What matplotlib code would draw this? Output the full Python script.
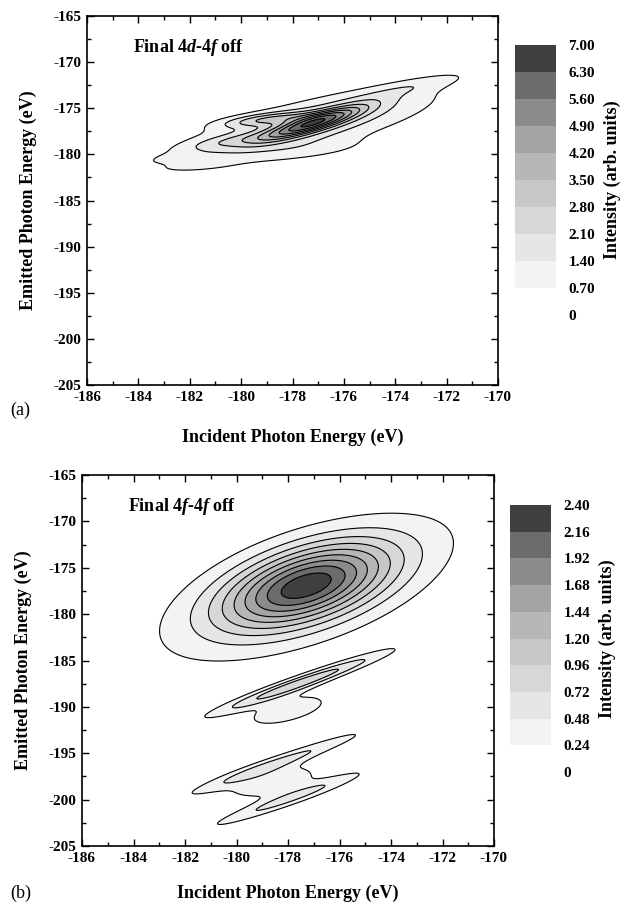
import numpy as np
import matplotlib
matplotlib.use("Agg")
import matplotlib.pyplot as plt
from matplotlib.ticker import MultipleLocator

# ---------------- data ----------------
x_range = [-186, -170]
y_range = [-205, -165]

levels_a = [0, 0.70, 1.40, 2.10, 2.80, 3.50, 4.20, 4.90, 5.60, 6.30, 7.00]
levels_b = [0, 0.24, 0.48, 0.72, 0.96, 1.20, 1.44, 1.68, 1.92, 2.16, 2.40]
level_labels_a = ["0", "0.70", "1.40", "2.10", "2.80", "3.50", "4.20", "4.90", "5.60", "6.30", "7.00"]
level_labels_b = ["0", "0.24", "0.48", "0.72", "0.96", "1.20", "1.44", "1.68", "1.92", "2.16", "2.40"]

band_colors = ["#ffffff", "#f3f3f3", "#e6e6e6", "#d7d7d7", "#c7c7c7",
               "#b7b7b7", "#a4a4a4", "#8b8b8b", "#6c6c6c", "#404040"]

# Intensity map features, panel (a): centre, amplitude, spread in x, spread in y, correlation
a_cx = [-177.2, -177.4, -179.0, -180.5, -182.4, -181.8, -173.3, -177.0]
a_cy = [-176.6, -176.8, -176.2, -178.6, -180.4, -181.3, -172.6, -179.5]
a_amp = [4.5, 2.0, 1.8, 0.9, 0.5, 0.45, 0.7, 0.5]
a_sx = [1.35, 3.4, 1.2, 1.2, 0.9, 1.0, 1.6, 1.8]
a_sy = [1.25, 2.8, 0.55, 0.7, 0.45, 0.4, 1.1, 0.9]
a_rho = [0.86, 0.75, 0.6, 0.7, 0.5, 0.5, 0.85, 0.5]

# Intensity map features, panel (b)
b_cx = [-177.3, -177.3, -177.5, -178.0, -178.4, -178.05, -178.6]
b_cy = [-176.9, -177.3, -187.4, -190.4, -196.0, -200.0, -198.1]
b_amp = [1.9, 0.45, 0.85, 0.34, 0.52, 0.52, 0.40]
b_sx = [2.2, 4.2, 2.21, 1.5, 2.42, 2.14, 1.46]
b_sy = [3.1, 5.8, 2.21, 1.6, 2.42, 2.14, 1.46]
b_rho = [0.5, 0.68, 0.97, 0.6, 0.973, 0.965, 0.53]


def intensity(X, Y, cx, cy, amp, sx, sy, rho):
    Z = np.zeros_like(X)
    for x0, y0, a, s1, s2, r in zip(cx, cy, amp, sx, sy, rho):
        u = (X - x0) / s1
        v = (Y - y0) / s2
        q = (u * u - 2 * r * u * v + v * v) / (1 - r * r)
        Z += a * np.exp(-0.5 * q)
    return Z


xg = np.linspace(x_range[0], x_range[1], 500)
yg = np.linspace(y_range[0], y_range[1], 800)
X, Y = np.meshgrid(xg, yg)
Za = intensity(X, Y, a_cx, a_cy, a_amp, a_sx, a_sy, a_rho)
Zb = intensity(X, Y, b_cx, b_cy, b_amp, b_sx, b_sy, b_rho)

# ---------------- style ----------------
plt.rcParams["font.family"] = ["Liberation Serif", "DejaVu Serif"]
plt.rcParams["font.weight"] = "bold"
plt.rcParams["axes.unicode_minus"] = False
plt.rcParams["mathtext.fontset"] = "custom"
plt.rcParams["mathtext.rm"] = "Liberation Serif:bold"
plt.rcParams["mathtext.it"] = "Liberation Serif:italic:bold"
plt.rcParams["mathtext.bf"] = "Liberation Serif:bold"

W, H = 626, 905
fig = plt.figure(figsize=(W / 100, H / 100), dpi=100)


def frac(l, t, r, b):
    return [l / W, 1 - b / H, (r - l) / W, (b - t) / H]


def panel(ax_box, cb_box, Z, levels, labels, title, letter, letter_y, xlabel_y):
    ax = fig.add_axes(frac(*ax_box))
    cf = ax.contourf(X, Y, Z, levels=levels, colors=band_colors)
    ax.contour(X, Y, Z, levels=levels[1:], colors="black", linewidths=0.8)
    ax.set_xlim(*x_range)
    ax.set_ylim(*y_range)
    ax.xaxis.set_major_locator(MultipleLocator(2))
    ax.xaxis.set_minor_locator(MultipleLocator(1))
    ax.yaxis.set_major_locator(MultipleLocator(5))
    ax.yaxis.set_minor_locator(MultipleLocator(2.5))
    ax.tick_params(which="both", direction="in", top=True, right=True,
                   labelsize=11, width=1.0)
    ax.tick_params(which="major", length=5, pad=4)
    ax.tick_params(which="minor", length=3)
    for lab in ax.get_xticklabels() + ax.get_yticklabels():
        lab.set_fontweight("bold")
    for s in ax.spines.values():
        s.set_linewidth(1.2)
    ax.set_ylabel("Emitted Photon Energy (eV)", fontsize=13, fontweight="bold", labelpad=12)
    ax.text(-184.2, -168.4, title, fontsize=13, fontweight="bold",
            ha="left", va="center")
    fig.text((ax_box[0] + ax_box[2]) / 2 / W, 1 - xlabel_y / H,
             "Incident Photon Energy (eV)", fontsize=13, fontweight="bold",
             ha="center", va="center")
    fig.text(10 / W, 1 - letter_y / H, letter, fontsize=13, fontweight="normal",
             ha="left", va="center")

    cax = fig.add_axes(frac(*cb_box))
    cb = fig.colorbar(cf, cax=cax)
    cb.outline.set_visible(False)
    cb.set_ticks(levels)
    cb.set_ticklabels(labels)
    cax.tick_params(length=0, labelsize=11, pad=9)
    for lab in cax.get_yticklabels():
        lab.set_fontweight("bold")
    cb.set_label("Intensity (arb. units)", fontsize=13, fontweight="bold", labelpad=6)
    return ax


panel((87, 16, 498, 385), (515, 45, 556, 315), Za, levels_a, level_labels_a,
      r"Final 4$\mathit{d}$-4$\mathit{f}$ off", "(a)", 410, 437)
panel((82, 475, 494, 846), (510, 505, 551, 772), Zb, levels_b, level_labels_b,
      r"Final 4$\mathit{f}$-4$\mathit{f}$ off", "(b)", 893, 893)

fig.savefig("out.png", dpi=100)
